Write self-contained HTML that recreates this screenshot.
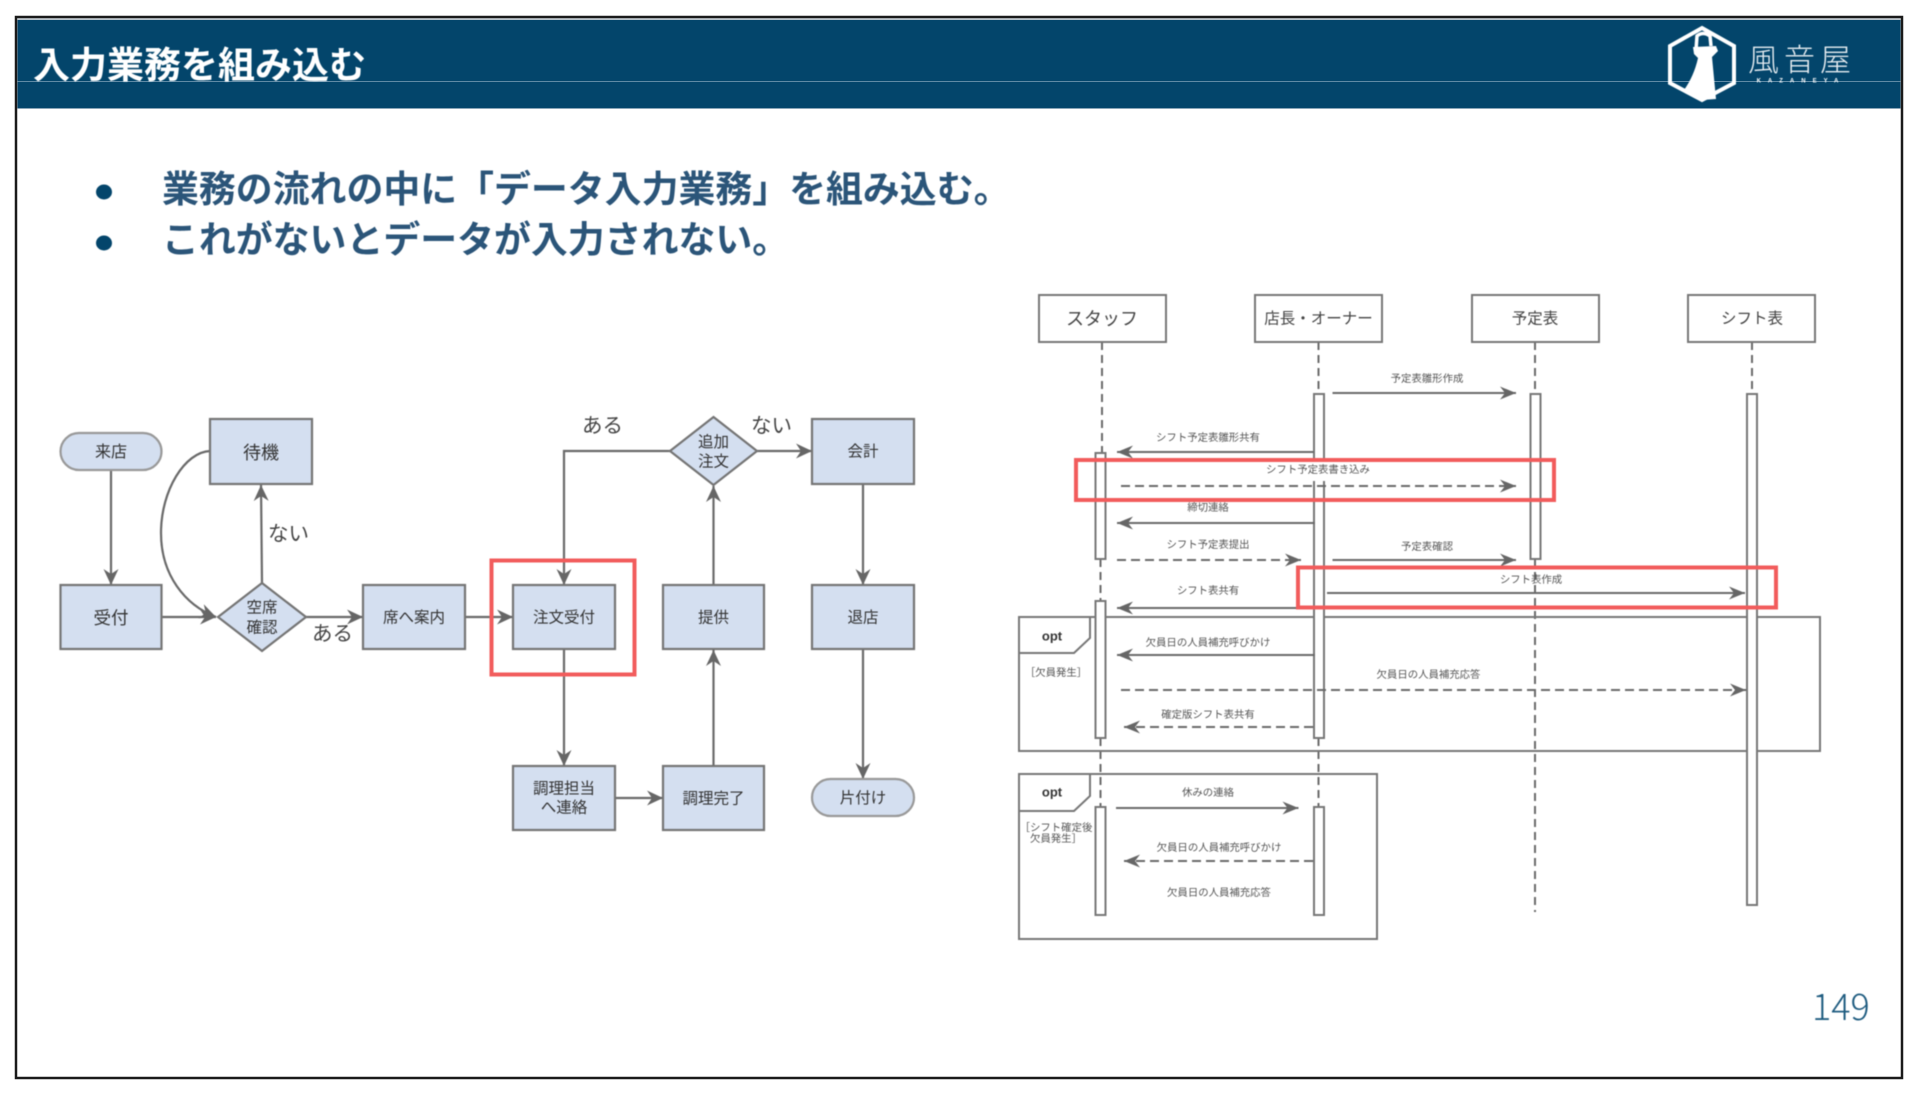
<!DOCTYPE html>
<html lang="ja">
<head>
<meta charset="utf-8">
<title>入力業務を組み込む</title>
<style>
html,body{margin:0;padding:0;background:#fff;width:1914px;height:1096px;overflow:hidden}
svg{display:block;font-family:"Liberation Sans","Noto Sans CJK JP",sans-serif}
.soft{filter:blur(.55px)}
.n{fill:#d4dff0;stroke:#757575;stroke-width:2.2}
.e{fill:none;stroke:#6a6a6a;stroke-width:2.2}
.ea{fill:none;stroke:#6a6a6a;stroke-width:2.2;marker-end:url(#a)}
.t{fill:#333;text-anchor:middle;dominant-baseline:central;font-size:16px;transform:translateY(1px)}
.big{font-size:20.500px;fill:#444;text-anchor:start}
.h{fill:#fff;stroke:#777;stroke-width:2}
.ht{fill:#444;text-anchor:middle;dominant-baseline:central;font-size:15.500px;transform:translateY(1px)}
.l{fill:none;stroke:#6a6a6a;stroke-width:2;stroke-dasharray:8 5}
.ac{fill:#fff;stroke:#777;stroke-width:2}
.m{fill:none;stroke:#6a6a6a;stroke-width:2;marker-end:url(#b)}
.md{fill:none;stroke:#6a6a6a;stroke-width:2;stroke-dasharray:9 5;marker-end:url(#b)}
.s{fill:#555;text-anchor:middle;dominant-baseline:central;font-size:10.400px;transform:translateY(1.300px)}
.f{fill:none;stroke:#777;stroke-width:2}
.r{fill:none;stroke:#f25c5c;stroke-width:4}
</style>
</head>
<body>
<svg xmlns="http://www.w3.org/2000/svg" width="1914" height="1096" viewBox="0 0 1914 1096">
<defs>
<marker id="a" markerUnits="userSpaceOnUse" markerWidth="18" markerHeight="18" refX="16" refY="9" orient="auto"><path d="M0 1.500 L16 9 L0 16.500 L5 9Z" fill="#666"/></marker>
<marker id="b" markerUnits="userSpaceOnUse" markerWidth="18" markerHeight="16" refX="16" refY="7" orient="auto"><path d="M0 0.500 L16 7 L0 13.500 L5 7Z" fill="#666"/></marker>
</defs>

<!-- frame -->
<rect x="16" y="17" width="1886" height="1061" fill="#fff" stroke="#1a1a1a" stroke-width="2.500"/>
<rect x="17.500" y="18.500" width="1883" height="1.500" fill="#b9c4cc"/>
<rect x="17.500" y="20" width="1883" height="88" fill="#03456b"/>
<rect x="17.500" y="108" width="1883" height="1" fill="#8aa5b8"/>
<rect x="17.500" y="81" width="1883" height="1" fill="#5f8aa5"/>

<g class="soft">
<text x="33" y="65.500" fill="#fff" font-size="37" font-weight="700" dominant-baseline="central">入力業務を組み込む</text>

<!-- logo -->
<path d="M1702 28 L1734 46 V83 L1702 100 L1670 83 V46Z" fill="none" stroke="#fff" stroke-width="4"/>
<path d="M1696 50 L1697 36 Q1703 31 1710 36 L1711 46" fill="none" stroke="#fff" stroke-width="3.500"/>
<path d="M1693 47 L1716 46 L1718 51 L1712 57 L1716 99 L1702 100 L1684 90 Q1694 76 1698 58 L1694 54Z" fill="#fff"/>
<text x="1748" y="60.500" fill="#e8eef2" font-size="31" font-weight="300" letter-spacing="5" dominant-baseline="central">風音屋</text>
<text x="1801" y="81.500" fill="#fff" font-size="6" font-weight="700" letter-spacing="7" text-anchor="middle" dominant-baseline="central">KAZANEYA</text>

<!-- bullets -->
<ellipse cx="104" cy="192" rx="8" ry="7.500" fill="#03456b"/>
<ellipse cx="104" cy="243" rx="8" ry="7.500" fill="#03456b"/>
<text x="162" y="189.500" fill="#2b5579" font-size="36.900" font-weight="700" dominant-baseline="central">業務の流れの中に「データ入力業務」を組み込む。</text>
<text x="162" y="240" fill="#2b5579" font-size="36.900" font-weight="700" dominant-baseline="central">これがないとデータが入力されない。</text>

<!-- flowchart edges -->
<path class="ea" d="M111 470V585"/>
<path class="ea" d="M162 617H216"/>
<path class="ea" d="M210 451C185 452 161 490 161 533C161 575 185 605 216 617"/>
<path class="ea" d="M262 583L261 485"/>
<path class="ea" d="M306 617H363"/>
<path class="ea" d="M465 617H513"/>
<path class="ea" d="M564 649V766"/>
<path class="ea" d="M615 798H663"/>
<path class="ea" d="M713.500 766V650"/>
<path class="ea" d="M713.500 585V486"/>
<path class="ea" d="M757 451H812"/>
<path class="ea" d="M670 451H564V585"/>
<path class="ea" d="M863 484V585"/>
<path class="ea" d="M863 649V779"/>

<!-- flowchart nodes -->
<rect class="n" x="60.500" y="433" width="101" height="37" rx="18.500" style="stroke:#999"/>
<text class="t" x="111" y="451.500">来店</text>
<rect class="n" x="210" y="419" width="102" height="65"/>
<text class="t" x="261" y="452" style="font-size:18px">待機</text>
<rect class="n" x="60.500" y="585" width="101" height="64"/>
<text class="t" x="111" y="617" style="font-size:17.500px">受付</text>
<path class="n" d="M262 583L306 617L262 651L218 617Z"/>
<text class="t" x="262" y="607" style="font-size:15.500px">空席</text>
<text class="t" x="262" y="627" style="font-size:15.500px">確認</text>
<rect class="n" x="363" y="585" width="102" height="64"/>
<text class="t" x="414" y="617" style="font-size:15.500px">席へ案内</text>
<rect class="n" x="513" y="585" width="102" height="64"/>
<text class="t" x="564" y="617" style="font-size:15.500px">注文受付</text>
<rect class="n" x="663" y="585" width="101" height="64"/>
<text class="t" x="713.500" y="617" style="font-size:15.500px">提供</text>
<rect class="n" x="812" y="585" width="102" height="64"/>
<text class="t" x="863" y="617" style="font-size:15.500px">退店</text>
<rect class="n" x="812" y="419" width="102" height="65"/>
<text class="t" x="863" y="451" style="font-size:15.500px">会計</text>
<path class="n" d="M713.500 417L757 451L713.500 485L670 451Z"/>
<text class="t" x="713.500" y="441.500" style="font-size:15.500px">追加</text>
<text class="t" x="713.500" y="461" style="font-size:15.500px">注文</text>
<rect class="n" x="513" y="766" width="102" height="64"/>
<text class="t" x="564" y="788" style="font-size:15.500px">調理担当</text>
<text class="t" x="564" y="807" style="font-size:15.500px">へ連絡</text>
<rect class="n" x="663" y="766" width="101" height="64"/>
<text class="t" x="713.500" y="798" style="font-size:15.500px">調理完了</text>
<rect class="n" x="812" y="779" width="102" height="37" rx="18.500" style="stroke:#999"/>
<text class="t" x="863" y="797.500" style="font-size:15.500px">片付け</text>

<text class="t big" x="268" y="533">ない</text>
<text class="t big" x="312" y="633">ある</text>
<text class="t big" x="582" y="425">ある</text>
<text class="t big" x="751" y="425">ない</text>
<rect class="r" x="491.500" y="560.500" width="143" height="114"/>

<!-- sequence: lifelines -->
<path class="l" d="M1102 342V453"/>
<path class="l" d="M1100.500 559V601"/>
<path class="l" d="M1100.500 738V807"/>
<path class="l" d="M1318.500 342V394"/>
<path class="l" d="M1318.500 738V807"/>
<path class="l" d="M1535 342V394"/>
<path class="l" d="M1535 559V912"/>
<path class="l" d="M1752 342V394"/>

<!-- heads -->
<rect class="h" x="1039" y="295" width="127" height="47"/>
<text class="ht" x="1102" y="318" style="font-size:18px">スタッフ</text>
<rect class="h" x="1255" y="295" width="127" height="47"/>
<text class="ht" x="1318.500" y="318">店長・オーナー</text>
<rect class="h" x="1472" y="295" width="127" height="47"/>
<text class="ht" x="1535" y="318">予定表</text>
<rect class="h" x="1688" y="295" width="127" height="47"/>
<text class="ht" x="1752" y="318">シフト表</text>

<!-- opt frames -->
<rect class="f" x="1019" y="617" width="801" height="134"/>
<rect class="f" x="1019" y="774" width="358" height="165"/>

<!-- activations -->
<rect class="ac" x="1314" y="394" width="10" height="344"/>
<rect class="ac" x="1530.500" y="394" width="10" height="165"/>
<rect class="ac" x="1747" y="394" width="10" height="511"/>
<rect class="ac" x="1095.500" y="453" width="10" height="106"/>
<rect class="ac" x="1095.500" y="601" width="10" height="137"/>
<rect class="ac" x="1095.500" y="807" width="10" height="108"/>
<rect class="ac" x="1314" y="807" width="10" height="108"/>

<!-- opt tabs -->
<path d="M1019 617H1090V638L1074 653H1019Z" fill="#fff" stroke="#777" stroke-width="2"/>
<path d="M1019 774H1090V796L1074 811H1019Z" fill="#fff" stroke="#777" stroke-width="2"/>
<path d="M1095.500 617V653M1105.500 617V653" stroke="#777" stroke-width="2"/>
<text x="1052" y="636" fill="#333" font-size="13" font-weight="700" text-anchor="middle" dominant-baseline="central">opt</text>
<text x="1052" y="792" fill="#333" font-size="13" font-weight="700" text-anchor="middle" dominant-baseline="central">opt</text>
<text class="s" x="1056" y="672">［欠員発生］</text>
<text class="s" x="1056" y="827">［シフト確定後</text>
<text class="s" x="1056" y="838">欠員発生］</text>

<!-- white patch of pasted label -->
<rect x="1312" y="458" width="14" height="23" fill="#fff"/>

<!-- messages -->
<path class="m" d="M1332.500 393H1516"/>
<text class="s" x="1427" y="378">予定表雛形作成</text>
<path class="m" d="M1314 452H1117"/>
<text class="s" x="1208" y="437">シフト予定表雛形共有</text>
<path class="md" d="M1121 486H1516"/>
<text class="s" x="1318" y="469">シフト予定表書き込み</text>
<path class="m" d="M1315 523H1117"/>
<text class="s" x="1208" y="507">締切連絡</text>
<path class="md" d="M1117 560H1301"/>
<text class="s" x="1208" y="544">シフト予定表提出</text>
<path class="m" d="M1332.500 560H1516"/>
<text class="s" x="1427" y="546">予定表確認</text>
<path class="m" d="M1327 593H1745"/>
<text class="s" x="1531" y="579">シフト表作成</text>
<path class="m" d="M1297 608H1117"/>
<text class="s" x="1208" y="590">シフト表共有</text>

<path class="m" d="M1315 655H1117"/>
<text class="s" x="1208" y="642">欠員日の人員補充呼びかけ</text>
<path class="md" d="M1121 690H1746"/>
<text class="s" x="1428.500" y="674">欠員日の人員補充応答</text>
<path class="md" d="M1313 727H1124"/>
<text class="s" x="1208" y="714">確定版シフト表共有</text>

<path class="m" d="M1116 808H1298.500"/>
<text class="s" x="1208" y="792">休みの連絡</text>
<path class="md" d="M1313 861H1124"/>
<text class="s" x="1219" y="847">欠員日の人員補充呼びかけ</text>
<text class="s" x="1219" y="892">欠員日の人員補充応答</text>

<rect class="r" x="1076" y="460" width="478" height="40"/>
<rect class="r" x="1298" y="567.500" width="478" height="40"/>

<text x="1812" y="1020" fill="#1f5c80" font-size="36" font-family="'Noto Sans CJK JP',sans-serif" font-weight="300">149</text>
</g>
</svg>
</body>
</html>
